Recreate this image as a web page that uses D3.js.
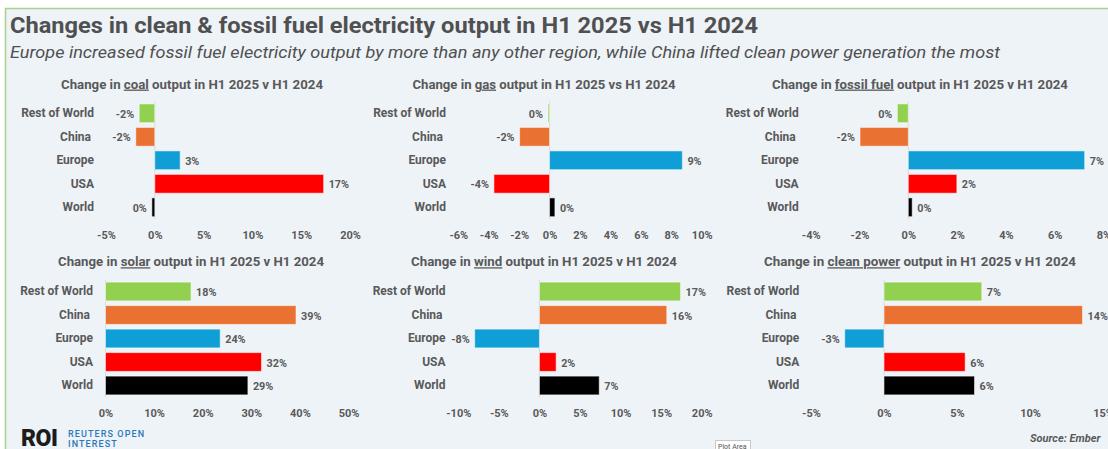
<!DOCTYPE html>
<html>
<head>
<meta charset="utf-8">
<script src="https://cdn.jsdelivr.net/npm/d3@7"></script>
<style>
  html, body { margin: 0; padding: 0; background: #ffffff; }
  svg { display: block; font-family: Roboto, "Noto Sans", sans-serif; }
  .cat text { white-space: pre; }
</style>
</head>
<body>
<svg id="chart" width="1108" height="449"></svg>
<script>
// Regions shown in every panel, top to bottom
const categories = ["Rest of World", "China ", "Europe", "USA", "World"];
const regionColors = ["#92d050", "#e97132", "#0f9ed5", "#ff0000", "#000000"];

// % change in electricity output, H1 2025 vs H1 2024
const coalChange   = [-1.6, -1.95, 2.6, 17.3, -0.3];
const gasChange    = [-0.1, -1.97, 8.73, -3.66, 0.35];
const fossilChange = [-0.45, -1.98, 7.23, 1.99, 0.16];
const solarChange  = [17.6, 39.2, 23.6, 32.1, 29.3];
const windChange   = [17.4, 15.7, -7.98, 2.06, 7.37];
const cleanChange  = [6.7, 13.6, -2.69, 5.56, 6.2];

// Axis tick values per panel
const coalTicks   = [-5, 0, 5, 10, 15, 20];
const gasTicks    = [-6, -4, -2, 0, 2, 4, 6, 8, 10];
const fossilTicks = [-4, -2, 0, 2, 4, 6, 8];
const solarTicks  = [0, 10, 20, 30, 40, 50];
const windTicks   = [-10, -5, 0, 5, 10, 15, 20];
const cleanTicks  = [-5, 0, 5, 10, 15];

// Panel titles: [before, underlined source, after]
const coalTitle   = ["Change in ", "coal", " output in H1 2025 v H1 2024"];
const gasTitle    = ["Change in ", "gas", " output in H1 2025 vs H1 2024"];
const fossilTitle = ["Change in ", "fossil fuel", " output in H1 2025 v H1 2024"];
const solarTitle  = ["Change in ", "solar", " output in H1 2025 v H1 2024"];
const windTitle   = ["Change in ", "wind", " output in H1 2025 v H1 2024"];
const cleanTitle  = ["Change in ", "clean power", " output in H1 2025 v H1 2024"];

const mainTitle = "Changes in clean & fossil fuel electricity output in H1 2025 vs H1 2024";
const subTitle = "Europe increased fossil fuel electricity output by more than any other region, while China lifted clean power generation the most";

const svg = d3.select("#chart");
const textGray = "#595959";

// Background and frame
svg.append("rect").attr("x", 5).attr("y", 8).attr("width", 1103).attr("height", 441).attr("fill", "#eef3f8");
svg.append("path").attr("d", "M5.5,449 V8.5 H1108").attr("fill", "none").attr("stroke", "#a9d18e").attr("stroke-width", 1.5);

// Headline
svg.append("text").attr("x", 10).attr("y", 33)
  .attr("font-size", 22.5).attr("font-weight", 700).attr("fill", "#505050")
  .attr("textLength", 748).attr("lengthAdjust", "spacingAndGlyphs")
  .text(mainTitle);
svg.append("text").attr("x", 10).attr("y", 58)
  .attr("font-size", 16.5).attr("font-style", "italic").attr("fill", "#505050")
  .attr("textLength", 990).attr("lengthAdjust", "spacingAndGlyphs")
  .text(subTitle);

// Panel layout
const topBand = [101.55, 219.05], botBand = [279.75, 397.25];
const panels = [
  { values: coalChange,   ticks: coalTicks,   title: coalTitle,   x: [106, 350],     band: topBand, labelX: 94,    titleX: 192, titleY: 84,    titleW: 262, tickY: 235 },
  { values: gasChange,    ticks: gasTicks,    title: gasTitle,    x: [458.3, 701.7], band: topBand, labelX: 446,   titleX: 544, titleY: 84,    titleW: 263, tickY: 235 },
  { values: fossilChange, ticks: fossilTicks, title: fossilTitle, x: [810.7, 1103.5], band: topBand, labelX: 798.7, titleX: 920, titleY: 84,   titleW: 296, tickY: 235 },
  { values: solarChange,  ticks: solarTicks,  title: solarTitle,  x: [105.5, 348.5], band: botBand, labelX: 93,    titleX: 191, titleY: 261.7, titleW: 266, tickY: 413.3 },
  { values: windChange,   ticks: windTicks,   title: windTitle,   x: [458.3, 701.7], band: botBand, labelX: 445.5, titleX: 544, titleY: 261.7, titleW: 266, tickY: 413.3 },
  { values: cleanChange,  ticks: cleanTicks,  title: cleanTitle,  x: [811, 1103],    band: botBand, labelX: 799.3, titleX: 920, titleY: 261.7, titleW: 312, tickY: 413.3 }
];

const pct = v => { const r = Math.round(v); return (r === 0 ? 0 : r) + "%"; };

panels.forEach(p => {
  const g = svg.append("g");
  const x = d3.scaleLinear()
    .domain([p.ticks[0], p.ticks[p.ticks.length - 1]])
    .range(p.x);
  const y = d3.scaleBand().domain(categories).range(p.band)
    .paddingInner(0.2).paddingOuter(0.1);
  const rows = categories.map((c, i) => ({ cat: c, value: p.values[i], color: regionColors[i] }));

  // Title with the energy source underlined
  const t = g.append("text").attr("x", p.titleX).attr("y", p.titleY).attr("dy", "0.35em")
    .attr("text-anchor", "middle").attr("font-size", 13).attr("font-weight", 700).attr("fill", textGray)
    .attr("textLength", p.titleW).attr("lengthAdjust", "spacingAndGlyphs");
  t.append("tspan").text(p.title[0]);
  t.append("tspan").attr("text-decoration", "underline").text(p.title[1]);
  t.append("tspan").text(p.title[2]);

  // Zero line
  g.append("line")
    .attr("x1", x(0)).attr("x2", x(0))
    .attr("y1", p.band[0]).attr("y2", p.band[1])
    .attr("stroke", "#d9d9d9").attr("stroke-width", 1);

  // Bars
  g.selectAll("rect.bar").data(rows).join("rect")
    .attr("class", "bar")
    .attr("x", d => Math.min(x(0), x(d.value)))
    .attr("width", d => Math.abs(x(d.value) - x(0)))
    .attr("y", d => y(d.cat))
    .attr("height", y.bandwidth())
    .attr("fill", d => d.color)
    .attr("stroke", "rgba(255,255,255,0.55)").attr("stroke-width", 1);

  // Value labels
  g.selectAll("text.val").data(rows).join("text")
    .attr("class", "val")
    .attr("x", d => d.value < 0 ? x(d.value) - 5 : x(d.value) + 5)
    .attr("y", d => y(d.cat) + y.bandwidth() / 2)
    .attr("dy", "0.42em")
    .attr("text-anchor", d => d.value < 0 ? "end" : "start")
    .attr("font-size", 10.8).attr("font-weight", 700).attr("fill", textGray)
    .text(d => pct(d.value));

  // Category axis
  const ya = g.append("g").attr("class", "cat")
    .attr("transform", `translate(${p.labelX},0)`)
    .call(d3.axisLeft(y).tickSize(0).tickPadding(0));
  ya.select(".domain").remove();
  ya.selectAll("text")
    .attr("xml:space", "preserve")
    .attr("font-family", "Roboto, sans-serif")
    .attr("font-size", 12).attr("font-weight", 700).attr("fill", textGray);

  // Value axis
  const xa = g.append("g")
    .attr("transform", `translate(0,${p.tickY})`)
    .call(d3.axisBottom(x).tickValues(p.ticks).tickSize(0).tickFormat(d => d + "%"));
  xa.select(".domain").remove();
  xa.selectAll("text")
    .attr("y", 0).attr("dy", "0.35em")
    .attr("font-family", "Roboto, sans-serif")
    .attr("font-size", 11).attr("font-weight", 700).attr("fill", textGray);
});

// Footer: logo and source
svg.append("text").attr("x", 21).attr("y", 446)
  .attr("font-size", 23).attr("font-weight", 900).attr("fill", "#1c1c1c").attr("letter-spacing", -0.5)
  .text("ROI");
svg.append("text").attr("x", 68).attr("y", 436.8)
  .attr("font-size", 9).attr("font-weight", 500).attr("fill", "#2a78b8").attr("letter-spacing", 1.1)
  .text("REUTERS OPEN");
svg.append("text").attr("x", 68).attr("y", 447.2)
  .attr("font-size", 9).attr("font-weight", 500).attr("fill", "#2a78b8").attr("letter-spacing", 1.1)
  .text("INTEREST");
svg.append("text").attr("x", 1030).attr("y", 441.5)
  .attr("font-size", 11).attr("font-weight", 700).attr("font-style", "italic").attr("fill", textGray)
  .text("Source: Ember");

// Hover tag
svg.append("rect").attr("x", 715.5).attr("y", 440.5).attr("width", 35).attr("height", 12)
  .attr("fill", "#ffffff").attr("stroke", "#c8c8c8");
svg.append("text").attr("x", 718).attr("y", 448.5)
  .attr("font-size", 7).attr("fill", "#555555").text("Plot Area");
</script>
</body>
</html>
